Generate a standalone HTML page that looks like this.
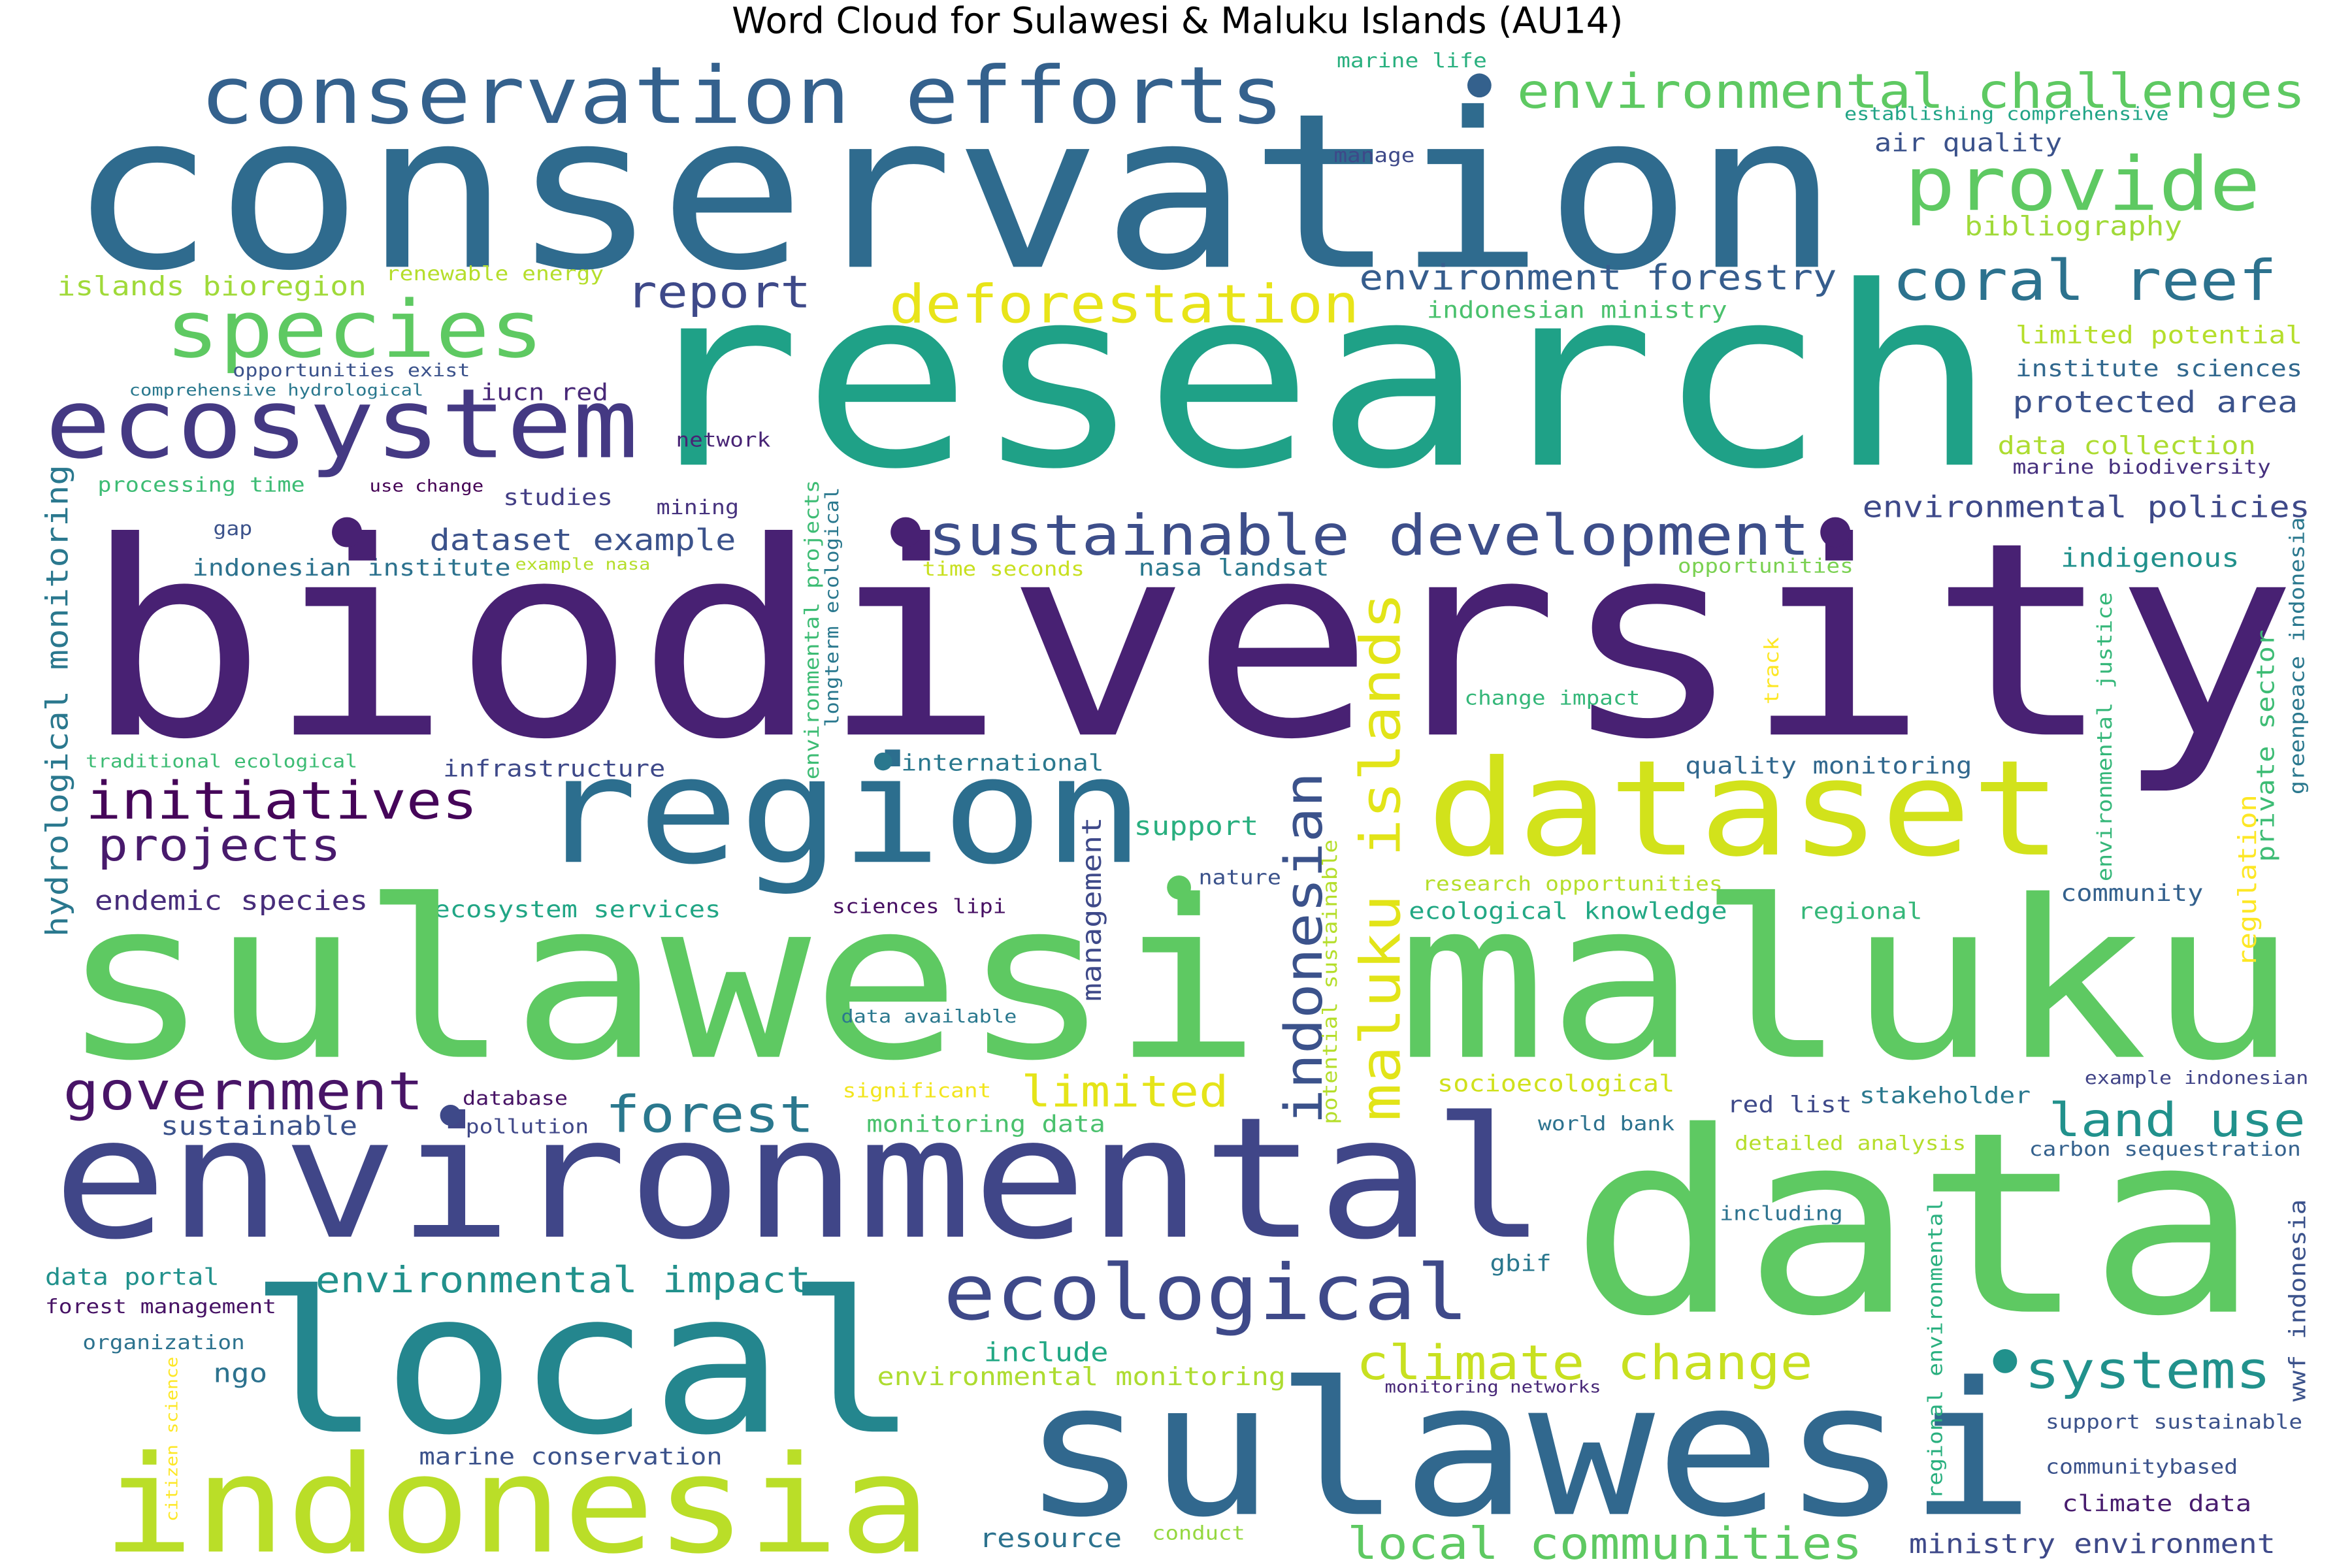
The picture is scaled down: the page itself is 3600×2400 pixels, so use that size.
<!DOCTYPE html>
<html><head><meta charset="utf-8"><style>
html,body{margin:0;padding:0;background:#fff;}
svg{display:block;}
</style></head><body>
<svg id="cloud" width="3600" height="2400" viewBox="0 0 1566 1046" preserveAspectRatio="none" xmlns="http://www.w3.org/2000/svg">
<rect width="1566" height="1046" fill="#fff"/>
<text x="784" y="22" text-anchor="middle" font-family="DejaVu Sans, Liberation Sans, sans-serif" font-size="24" fill="#000">Word Cloud for Sulawesi &amp; Maluku Islands (AU14)</text>
<g id="words"></g>
</svg>
<script>
const words = [
["conservation",45,1225,178,"#2f6b8e"],
["conservation efforts",133,855,82,"#34618d"],
["environmental challenges",1010,1535,72,"#5ec962"],
["marine life",890,990,45,"#2ab07f"],
["establishing comprehensive",1228,1444,80,"#20a486"],
["manage",888,942,108,"#3e4989"],
["air quality",1248,1373,101,"#3b528b"],
["provide",1268,1505,140,"#5ec962"],
["bibliography",1308,1453,157,"#a0da39"],
["research",420,1330,310,"#1fa187"],
["coral reef",1260,1516,200,"#2c728e"],
["environment forestry",905,1223,193,"#365d8d"],
["indonesian ministry",950,1150,212,"#4ac16d"],
["deforestation",592,905,215,"#e8e419"],
["report",417,540,205,"#3e4989"],
["islands bioregion",38,244,197,"#a0da39"],
["renewable energy",257,402,187,"#b5de2b"],
["species",110,362,238,"#5ec962"],
["opportunities exist",155,313,251,"#3b528b"],
["comprehensive hydrological",86,282,264,"#2a788e"],
["iucn red",320,405,267,"#482878"],
["ecosystem",30,425,305,"#443983"],
["network",450,513,298,"#482475"],
["limited potential",1342,1533,229,"#b5de2b"],
["institute sciences",1342,1533,251,"#31688e"],
["protected area",1340,1530,275,"#3b528b"],
["data collection",1330,1502,303,"#addc30"],
["marine biodiversity",1340,1512,316,"#46307e"],
["processing time",65,203,328,"#3dbc74"],
["use change",246,322,328,"#440154"],
["studies",335,408,337,"#433e85"],
["mining",437,492,343,"#46327e"],
["environmental policies",1240,1538,345,"#3e4989"],
["sustainable development",618,1205,370,"#3d4e8a"],
["gap",142,168,357,"#3b528b"],
["dataset example",286,490,367,"#3b528b"],
["indonesian institute",128,340,384,"#2c728e"],
["example nasa",343,433,380,"#b5de2b"],
["time seconds",614,722,384,"#c8e020"],
["nasa landsat",758,885,384,"#2a788e"],
["opportunities",1117,1234,382,"#7ad151"],
["indigenous",1372,1491,378,"#21918c"],
["biodiversity",55,1530,490,"#482173"],
["change impact",975,1092,470,"#35b779"],
["traditional ecological",57,238,512,"#3dbc74"],
["infrastructure",295,443,518,"#3e4989"],
["international",600,735,514,"#2a788e"],
["quality monitoring",1122,1313,516,"#31688e"],
["initiatives",57,318,546,"#450559"],
["region",357,762,575,"#2c6e8e"],
["dataset",950,1373,570,"#d2e21b"],
["projects",65,227,574,"#481a6c"],
["support",755,838,557,"#29af7f"],
["nature",798,853,590,"#3b528b"],
["research opportunities",947,1147,594,"#b5de2b"],
["community",1372,1467,601,"#34618d"],
["endemic species",63,245,607,"#472c7a"],
["ecosystem services",289,480,612,"#21a685"],
["sciences lipi",554,670,609,"#471063"],
["ecological knowledge",938,1150,613,"#22a884"],
["regional",1197,1280,613,"#35b779"],
["sulawesi",40,840,705,"#5ec962"],
["maluku",930,1530,705,"#5ec962"],
["data available",560,677,682,"#2a788e"],
["government",42,282,740,"#481467"],
["sustainable",107,238,757,"#3b528b"],
["database",308,378,737,"#471365"],
["pollution",310,392,756,"#3f4788"],
["forest",403,542,755,"#2a788e"],
["significant",561,660,732,"#f2e51d"],
["limited",680,818,738,"#e5e419"],
["monitoring data",577,736,755,"#4ac16d"],
["socioecological",957,1115,728,"#d0e11c"],
["red list",1150,1233,742,"#3e4989"],
["stakeholder",1238,1352,736,"#2a788e"],
["example indonesian",1388,1537,723,"#414487"],
["land use",1364,1535,758,"#21918c"],
["world bank",1024,1115,754,"#2c728e"],
["detailed analysis",1155,1309,767,"#b5de2b"],
["carbon sequestration",1351,1532,771,"#34618d"],
["environmental",35,1030,825,"#404688"],
["data",1045,1505,875,"#5ec962"],
["including",1145,1227,814,"#2c728e"],
["data portal",30,146,857,"#21918c"],
["environmental impact",210,540,862,"#21918c"],
["ecological",628,978,880,"#3e4989"],
["gbif",992,1033,848,"#2a788e"],
["forest management",30,184,876,"#471365"],
["organization",55,163,900,"#2c728e"],
["local",165,612,955,"#24868e"],
["include",655,738,908,"#22a884"],
["climate change",903,1207,920,"#c8e020"],
["environmental monitoring",584,856,924,"#addc30"],
["ngo",142,178,922,"#2c728e"],
["monitoring networks",922,1066,929,"#482878"],
["systems",1348,1512,926,"#21918c"],
["support sustainable",1362,1533,953,"#3b528b"],
["sulawesi",680,1355,1010,"#31688e"],
["indonesia",68,620,1035,"#bade28"],
["marine conservation",279,481,977,"#3b528b"],
["communitybased",1362,1490,983,"#3b528b"],
["climate data",1373,1499,1008,"#481c6e"],
["resource",652,747,1032,"#2c728e"],
["conduct",767,829,1027,"#95d840"],
["local communities",897,1240,1040,"#5ec962"],
["ministry environment",1271,1515,1036,"#3e4989"]
];
const vwords = [
["hydrological monitoring",45,625,310,"#2a788e"],
["environmental projects",545,520,320,"#3dbc74"],
["longterm ecological",558,485,325,"#2a788e"],
["indonesian",880,750,515,"#3b528b"],
["maluku islands",932,748,395,"#e2e418"],
["management",733,668,545,"#3e4989"],
["potential sustainable",890,750,560,"#b5de2b"],
["track",1184,470,425,"#fde725"],
["environmental justice",1406,588,395,"#35b779"],
["greenpeace indonesia",1534,530,345,"#2a788e"],
["private sector",1514,575,420,"#3dbc74"],
["regulation",1502,645,530,"#fde725"],
["regional environmental",1293,1000,800,"#2ab07f"],
["wwf indonesia",1535,935,800,"#3b528b"],
["citizen science",118,1015,905,"#fde725"]
];
const dots = [[985,57,8,"#34618d"],[603,355,10,"#482173"],[1222,355,10,"#482173"],[231,355,10,"#482173"],[300,744,7,"#3e4989"],[588,508,6,"#2a788e"],[785,592,8,"#5ec962"],[1335,908,8,"#21918c"]];
const NS="http://www.w3.org/2000/svg";
const g=document.getElementById('words');
const SCALE=0.88;
words.forEach(w=>{
  const [t,x1,x2,y,c]=w;
  const el=document.createElementNS(NS,'text');
  
  
  const fs=SCALE*(x2-x1)/(t.length*0.602);
  el.setAttribute('x',x1);el.setAttribute('y',y);
  el.setAttribute('font-size',fs.toFixed(1));
  el.setAttribute('font-family','DejaVu Sans Mono, Liberation Mono, monospace');
  el.setAttribute('fill',c);
  el.setAttribute('textLength',x2-x1);
  el.setAttribute('lengthAdjust','spacingAndGlyphs');
  el.textContent=t;g.appendChild(el);
});
vwords.forEach(w=>{
  const [t,bx,yb,yt,c]=w;
  const el=document.createElementNS(NS,'text');
  
  
  const len=yb-yt;
  const fs=SCALE*len/(t.length*0.602);
  el.setAttribute('x',bx);el.setAttribute('y',yb);
  el.setAttribute('transform','rotate(-90 '+bx+' '+yb+')');
  el.setAttribute('font-size',fs.toFixed(1));
  el.setAttribute('font-family','DejaVu Sans Mono, Liberation Mono, monospace');
  el.setAttribute('fill',c);
  el.setAttribute('textLength',len);
  el.setAttribute('lengthAdjust','spacingAndGlyphs');
  el.textContent=t;g.appendChild(el);
});
dots.forEach(d=>{
  const el=document.createElementNS(NS,'circle');
  
  
  el.setAttribute('cx',d[0]);el.setAttribute('cy',d[1]);el.setAttribute('r',d[2]);el.setAttribute('fill',d[3]);
  g.appendChild(el);
});
</script>
</body></html>
